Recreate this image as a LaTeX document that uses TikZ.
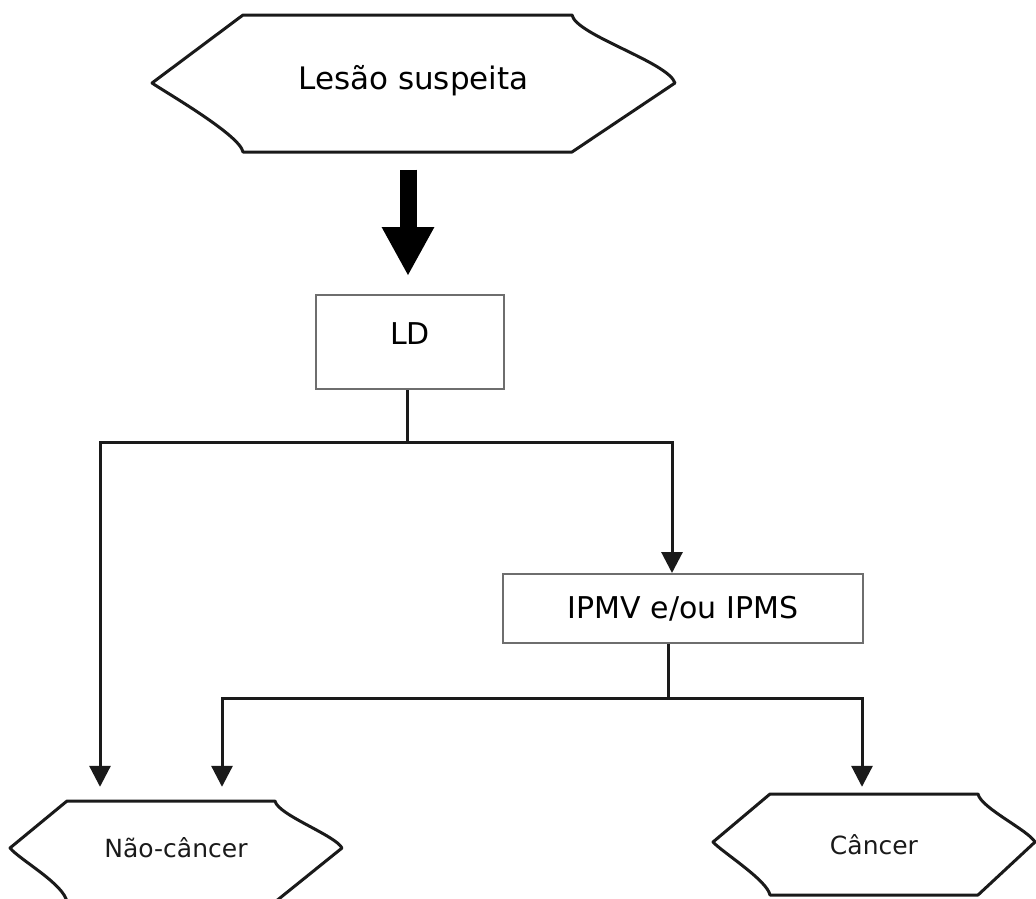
\documentclass[tikz,border=0pt]{standalone}
\usepackage{fontspec}
\setmainfont{DejaVu Sans}
\usepackage{tikz}
\usetikzlibrary{positioning, arrows.meta, calc}
\definecolor{nInk}{HTML}{1A1A1A}
\definecolor{nLine}{HTML}{6E6E6E}
\tikzset{
  tagline/.style={draw=nInk, line width=3pt, line join=round},
  bigtext/.style={font=\fontsize{31}{37}\selectfont, text=black},
  smalltext/.style={font=\fontsize{25}{30}\selectfont, text=nInk},
  stepbox/.style={draw=nLine, line width=2pt, inner sep=0pt, fill=white,
    font=\fontsize{30}{36}\selectfont, align=center},
  wire/.style={draw=nInk, line width=3pt},
  flow/.style={wire, -{Triangle[width=21pt,length=21pt]}},
  bigarrow/.style={draw=black, line width=17pt, -{Triangle[width=49pt,length=49pt]}},
}

\begin{document}
\begin{tikzpicture}[x=1pt, y=-1pt]
  \useasboundingbox (0,0) rectangle (1036,898);
  \clip (0,0) rectangle (1036,898);
  % tag shapes
  \draw[tagline] (243,15) -- (572,15) .. controls (576,35) and (668,62) .. (675,83)
    -- (572,152) -- (243,152) .. controls (240,135) and (165,92) .. (152,83) -- cycle;
  \draw[tagline] (67,801) -- (275,801) .. controls (278,815) and (335,835) .. (342,848)
    -- (275,902) -- (67,902) .. controls (64,884) and (20,860) .. (10,848) -- cycle;
  \draw[tagline] (770,794) -- (978,794) .. controls (981,808) and (1028,830) .. (1035,842)
    -- (978,895) -- (770,895) .. controls (767,880) and (722,852) .. (713,842) -- cycle;
  \node[bigtext, minimum width=523pt, minimum height=137pt, inner sep=0pt] (lesao) at (413.5,81) {Lesão suspeita};
  \node[smalltext, minimum width=332pt, minimum height=94pt, inner sep=0pt] (nao) at (176,848) {Não-câncer};
  \node[smalltext, minimum width=322pt, minimum height=101pt, inner sep=0pt] (cancer) at (874,844.5) {Câncer};
  % boxes
  \node[stepbox, minimum width=188pt, minimum height=94pt, text depth=17pt] (ld) at (410,342) {LD};
  \node[stepbox, minimum width=360pt, minimum height=69pt] (ipmv) at (683,608.5) {IPMV e/ou IPMS};
  \coordinate (bar1) at (0,442);
  \coordinate (bar2) at (0,698);
  % connectors
  \draw[bigarrow, shorten <=20pt, shorten >=18pt] ([xshift=-2pt]ld.north |- lesao.south) -- ([xshift=-2pt]ld.north);
  \draw[wire] ([xshift=-3pt]ld.south) -- ([xshift=-3pt]ld.south |- bar1);
  \draw[flow, shorten >=14pt] ([xshift=-3pt]ld.south |- bar1) -| ([xshift=-76pt]nao.north);
  \draw[flow] ([xshift=-3pt]ld.south |- bar1) -| ([xshift=-11pt]ipmv.north);
  \draw[wire] ([xshift=-15pt]ipmv.south) -- ([xshift=-15pt]ipmv.south |- bar2);
  \draw[flow, shorten >=14pt] ([xshift=-15pt]ipmv.south |- bar2) -| ([xshift=46pt]nao.north);
  \draw[flow, shorten >=7pt] ([xshift=-15pt]ipmv.south |- bar2) -| ([xshift=-12pt]cancer.north);
\end{tikzpicture}
\end{document}
